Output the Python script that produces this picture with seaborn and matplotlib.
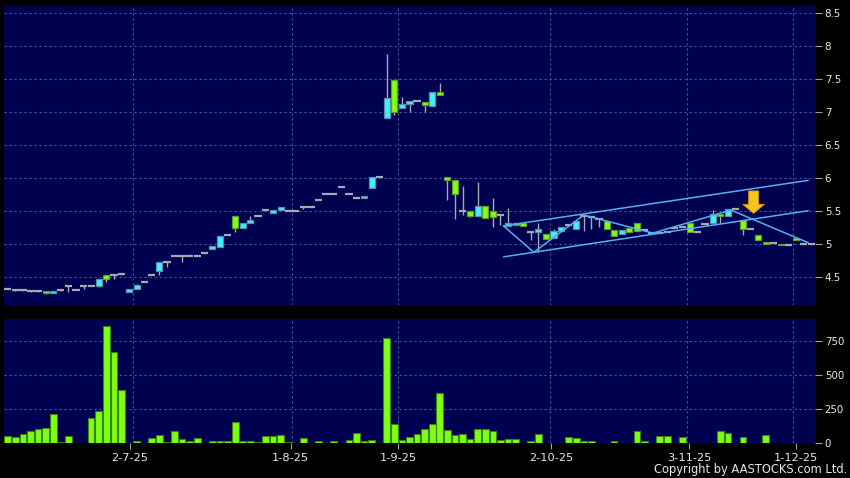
import numpy as np
import pandas as pd
import matplotlib
matplotlib.use("Agg")
import matplotlib.pyplot as plt
import seaborn as sns

# --- daily data (one entry per trading day, left to right) ---
opens = [
    4.31, 4.29, 4.29, 4.28, 4.28, 4.28, 4.25, 4.29, 4.36, 4.29,
    4.36, 4.36, 4.36, 4.52, 4.52, 4.54, 4.26, 4.31, 4.42, 4.53,
    4.59, 4.72, 4.81, 4.81, 4.82, 4.81, 4.86, 4.92, 4.95, 5.13,
    5.42, 5.24, 5.32, 5.42, 5.51, 5.46, 5.51, 5.49, 5.49, 5.55,
    5.55, 5.66, 5.76, 5.76, 5.86, 5.76, 5.70, 5.70, 5.85, 6.01,
    6.90, 7.49, 7.06, 7.12, 7.16, 7.15, 7.09, 7.30, 6.01, 5.96,
    5.49, 5.50, 5.42, 5.57, 5.50, 5.44, 5.27, 5.32, 5.32, 5.18,
    5.17, 5.15, 5.08, 5.19, 5.28, 5.23, 5.42, 5.41, 5.37, 5.35,
    5.21, 5.14, 5.24, 5.32, 5.20, 5.16, 5.16, 5.18, 5.24, 5.25,
    5.32, 5.18, 5.30, 5.31, 5.45, 5.42, 5.52, 5.36, 5.22, 5.13,
    5.03, 5.01, 5.00, 4.98, 5.08, 5.00, 5.00,
]
closes = [
    4.31, 4.29, 4.29, 4.28, 4.28, 4.25, 4.28, 4.29, 4.36, 4.29,
    4.36, 4.36, 4.47, 4.47, 4.52, 4.54, 4.31, 4.38, 4.42, 4.53,
    4.72, 4.72, 4.81, 4.81, 4.82, 4.81, 4.86, 4.96, 5.11, 5.13,
    5.24, 5.31, 5.36, 5.42, 5.51, 5.51, 5.55, 5.49, 5.49, 5.55,
    5.55, 5.66, 5.76, 5.76, 5.86, 5.76, 5.70, 5.73, 6.01, 6.01,
    7.21, 6.99, 7.12, 7.16, 7.16, 7.10, 7.30, 7.25, 5.96, 5.76,
    5.49, 5.42, 5.57, 5.39, 5.40, 5.44, 5.31, 5.29, 5.27, 5.18,
    5.23, 5.07, 5.19, 5.26, 5.28, 5.34, 5.42, 5.41, 5.37, 5.22,
    5.12, 5.20, 5.18, 5.19, 5.20, 5.16, 5.16, 5.18, 5.24, 5.25,
    5.18, 5.18, 5.30, 5.45, 5.42, 5.52, 5.52, 5.22, 5.22, 5.06,
    5.00, 5.01, 4.98, 4.98, 5.05, 5.00, 5.00,
]
highs = [
    4.31, 4.30, 4.30, 4.30, 4.30, 4.28, 4.28, 4.30, 4.36, 4.29,
    4.36, 4.36, 4.47, 4.52, 4.52, 4.55, 4.31, 4.39, 4.42, 4.53,
    4.72, 4.72, 4.81, 4.81, 4.84, 4.81, 4.86, 4.96, 5.11, 5.14,
    5.42, 5.31, 5.42, 5.42, 5.51, 5.51, 5.55, 5.49, 5.49, 5.55,
    5.55, 5.66, 5.76, 5.76, 5.86, 5.76, 5.70, 5.73, 6.01, 6.01,
    7.88, 7.49, 7.23, 7.16, 7.16, 7.15, 7.30, 7.44, 6.01, 5.96,
    5.88, 5.50, 5.93, 5.57, 5.70, 5.44, 5.54, 5.32, 5.32, 5.18,
    5.32, 5.15, 5.22, 5.26, 5.28, 5.34, 5.42, 5.41, 5.37, 5.35,
    5.21, 5.20, 5.24, 5.32, 5.22, 5.16, 5.16, 5.18, 5.24, 5.25,
    5.32, 5.18, 5.30, 5.51, 5.45, 5.52, 5.52, 5.36, 5.22, 5.13,
    5.03, 5.01, 5.00, 4.98, 5.08, 5.00, 5.00,
]
lows = [
    4.31, 4.28, 4.28, 4.27, 4.26, 4.24, 4.25, 4.28, 4.27, 4.29,
    4.32, 4.36, 4.35, 4.42, 4.47, 4.52, 4.26, 4.31, 4.42, 4.53,
    4.52, 4.64, 4.81, 4.72, 4.82, 4.81, 4.86, 4.92, 4.95, 5.13,
    5.17, 5.24, 5.32, 5.42, 5.51, 5.46, 5.51, 5.49, 5.49, 5.52,
    5.55, 5.66, 5.76, 5.76, 5.86, 5.76, 5.70, 5.70, 5.85, 6.01,
    6.90, 6.95, 7.06, 6.99, 7.16, 7.00, 7.09, 7.25, 5.67, 5.37,
    5.44, 5.40, 5.42, 5.39, 5.26, 5.29, 5.27, 5.29, 5.27, 5.06,
    4.87, 5.07, 5.08, 5.19, 5.28, 5.23, 5.19, 5.23, 5.25, 5.22,
    5.12, 5.14, 5.18, 5.19, 5.20, 5.16, 5.16, 5.18, 5.24, 5.25,
    5.18, 5.18, 5.30, 5.31, 5.31, 5.42, 5.52, 5.13, 5.22, 5.06,
    5.00, 5.01, 4.98, 4.98, 5.05, 5.00, 5.00,
]
volumes = [
    56, 44, 66, 93, 103, 113, 216, 7, 56, 0,
    2, 186, 238, 865, 672, 395, 0, 17, 0, 37,
    59, 7, 88, 32, 15, 42, 0, 15, 15, 15,
    154, 17, 17, 7, 51, 54, 64, 7, 0, 37,
    0, 15, 0, 17, 2, 27, 74, 17, 27, 2,
    777, 140, 25, 47, 66, 105, 140, 373, 96, 64,
    71, 29, 105, 105, 93, 25, 34, 29, 2, 20,
    66, 2, 2, 0, 49, 42, 15, 20, 2, 0,
    15, 0, 0, 88, 15, 0, 56, 56, 2, 49,
    2, 0, 0, 2, 91, 78, 0, 49, 0, 2,
    59, 0, 3, 0, 2, 2, 2,
]

date_labels = ["2-7-25", "1-8-25", "1-9-25", "2-10-25", "3-11-25", "1-12-25"]
date_ticks = [16.07, 37.3, 51.47, 71.68, 89.9, 104.0]
date_grid = [16.46, 37.52, 51.47, 71.6, 89.57, 103.57]

# hand drawn trend lines on the price chart (day index, price)
chan_low_x = [65.4, 105.6]
chan_low_y = [4.80, 5.50]
chan_high_x = [65.4, 105.6]
chan_high_y = [5.27, 5.96]
zigzag_x = [65.4, 69.4, 76.0, 85.1, 95.4, 105.6]
zigzag_y = [5.27, 4.87, 5.435, 5.16, 5.51, 5.015]
arrow_x = 98.4
arrow_top = 5.80
arrow_tip = 5.46

# --- colours ---
BG = "#000050"
GRID = "#4c5894"
UP = "#3ef2fa"
UP_EDGE = "#5a8ea8"
DOWN = "#84ff10"
DOWN_EDGE = "#5f9a2c"
FLAT = "#a8a8b0"
LINE = "#55aef0"
TXT = "#e8e8e8"

sns.set_theme(style="dark", rc={
    "axes.facecolor": BG,
    "figure.facecolor": "black",
    "axes.edgecolor": BG,
    "xtick.color": "#a0a0a0",
    "ytick.color": "#a0a0a0",
})
plt.rcParams["font.family"] = ["DejaVu Sans"]

df = pd.DataFrame({"open": opens, "close": closes, "high": highs,
                   "low": lows, "volume": volumes})
df["idx"] = np.arange(len(df))

fig = plt.figure(figsize=(8.5, 4.78), dpi=100, facecolor="black")
ax = fig.add_axes([4 / 850, 1 - 305 / 478, 811 / 850, 300 / 478])
axv = fig.add_axes([4 / 850, 1 - 443.3 / 478, 811 / 850, 124.3 / 478])

# candles
ax.vlines(df["idx"], df["low"], df["high"], color=FLAT, lw=1, zorder=2)
up = df[df["close"] > df["open"]]
down = df[df["close"] < df["open"]]
flat = df[df["close"] == df["open"]]
ax.bar(up["idx"], up["close"] - up["open"], bottom=up["open"], width=0.8,
       color=UP, edgecolor=UP_EDGE, linewidth=0.9, zorder=3)
ax.bar(down["idx"], down["open"] - down["close"], bottom=down["close"], width=0.8,
       color=DOWN, edgecolor=DOWN_EDGE, linewidth=0.9, zorder=3)
ax.hlines(flat["close"], flat["idx"] - 0.48, flat["idx"] + 0.48, color=FLAT,
          lw=1.6, zorder=3)

# trend lines + arrow
ax.plot(chan_low_x, chan_low_y, color=LINE, lw=1.1, zorder=4)
ax.plot(chan_high_x, chan_high_y, color=LINE, lw=1.1, zorder=4)
ax.plot(zigzag_x, zigzag_y, color=LINE, lw=1.1, zorder=4)
ax.annotate("", xy=(arrow_x, arrow_tip), xytext=(arrow_x, arrow_top),
            arrowprops=dict(arrowstyle="simple,head_length=0.5,head_width=1.2,tail_width=0.55",
                            mutation_scale=13, fc="#f6c21c", ec="#d99a00", lw=0.6,
                            shrinkA=0, shrinkB=0),
            zorder=5)

ax.set_xlim(-0.5, len(df) - 0.5)
ax.set_ylim(4.07, 8.62)
price_ticks = np.arange(4.5, 8.51, 0.5)
ax.set_yticks(price_ticks)
ax.set_yticklabels([f"{t:g}" for t in price_ticks])
ax.yaxis.tick_right()
ax.set_xticks([])

# volume
sns.barplot(x=df["idx"], y=df["volume"], ax=axv, color="#7cff10", saturation=1,
            width=0.88, edgecolor="#3f7f10", linewidth=0.8, errorbar=None, zorder=3)
axv.set_xlim(-0.5, len(df) - 0.5)
axv.set_ylim(0, 915)
axv.set_yticks([0, 250, 500, 750])
axv.set_yticklabels(["0", "250", "500", "750"])
axv.yaxis.tick_right()
axv.set_xticks(date_ticks)
axv.set_xticklabels(date_labels)
axv.set_xlabel("")
axv.set_ylabel("")

for a in (ax, axv):
    for s in a.spines.values():
        s.set_visible(False)
    a.grid(False)
    for t in a.get_yticks():
        if a is axv and t == 0:
            continue
        a.axhline(t, color=GRID, lw=0.8, ls=(0, (2, 2.5)), zorder=1)
    for g in date_grid:
        a.axvline(g, color=GRID, lw=0.8, ls=(0, (2, 2.5)), zorder=1)
    a.tick_params(axis="y", which="both", right=True, left=False, length=5,
                  width=0.8, pad=2, labelsize=7.4, labelcolor=TXT)
axv.tick_params(axis="x", bottom=True, length=4, width=0.8, pad=3,
                labelsize=8.2, labelcolor=TXT)

fig.text(847 / 850, 1 - 476 / 478, "Copyright by AASTOCKS.com Ltd.", color=TXT,
         fontsize=8.3, ha="right", va="bottom")

fig.savefig("out.png", dpi=100, facecolor="black")
